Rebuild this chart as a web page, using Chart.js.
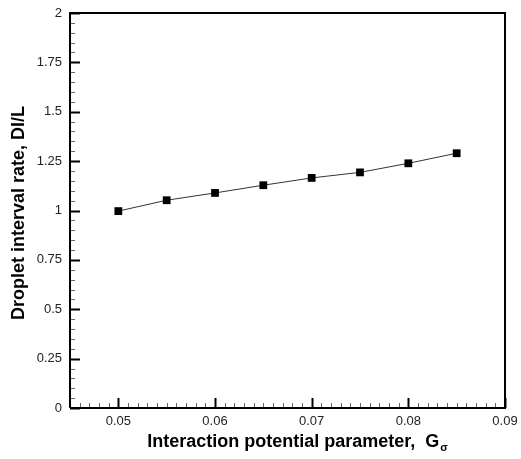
<!DOCTYPE html>
<html><head><meta charset="utf-8">
<script src="https://cdn.jsdelivr.net/npm/chart.js@4/dist/chart.umd.min.js"></script>
<style>html,body{margin:0;padding:0;background:#fff}#wrap{width:521px;height:459px}</style>
</head><body><div id="wrap"><canvas id="c" width="521" height="459"></canvas></div>
<script>
const gSigma = [0.05, 0.055, 0.06, 0.065, 0.07, 0.075, 0.08, 0.085];
const intervalRate = [0.997, 1.052, 1.089, 1.128, 1.165, 1.193, 1.239, 1.29];
const xTicks = [0.05, 0.06, 0.07, 0.08, 0.09];
const yTicks = [0, 0.25, 0.5, 0.75, 1, 1.25, 1.5, 1.75, 2];
const xLabel = 'Interaction potential parameter,  G';
const xLabelSub = 'σ';
const yLabel = 'Droplet interval rate, DI/L';

const frame = {
  id: 'frame',
  afterDraw(chart) {
    const {ctx, chartArea: a, scales: {x, y}} = chart;
    ctx.save();
    ctx.strokeStyle = '#000';
    for (let i = 0; i <= 45; i++) {
      const v = 0.045 + i * 0.001;
      const px = Math.round(x.getPixelForValue(v)) + 0.5;
      const major = Math.abs((v * 100) - Math.round(v * 100)) < 1e-6;
      ctx.lineWidth = major ? 2 : 1;
      ctx.strokeStyle = major ? '#000' : '#666';
      ctx.beginPath(); ctx.moveTo(px, a.bottom); ctx.lineTo(px, a.bottom - (major ? 10 : 5)); ctx.stroke();
    }
    for (let i = 0; i <= 40; i++) {
      const v = i * 0.05;
      const py = Math.round(y.getPixelForValue(v)) + 0.5;
      const major = i % 5 === 0;
      ctx.lineWidth = major ? 2 : 1;
      ctx.strokeStyle = major ? '#000' : '#666';
      ctx.beginPath(); ctx.moveTo(a.left, py); ctx.lineTo(a.left + (major ? 10 : 5), py); ctx.stroke();
    }
    ctx.strokeStyle = '#000';
    ctx.lineWidth = 2;
    ctx.beginPath();
    ctx.moveTo(a.left, a.bottom); ctx.lineTo(a.left, a.top); ctx.lineTo(a.right, a.top);
    ctx.lineTo(a.right, a.bottom); ctx.lineTo(a.left, a.bottom);
    ctx.stroke();
    // axis titles
    ctx.fillStyle = '#000';
    ctx.textBaseline = 'middle';
    ctx.font = 'bold 18px "Liberation Sans", Arial, sans-serif';
    const w1 = ctx.measureText(xLabel).width;
    ctx.font = 'bold 11px "Liberation Sans", Arial, sans-serif';
    const w2 = ctx.measureText(xLabelSub).width;
    const cx = 297;
    const sx = cx - (w1 + w2) / 2;
    ctx.font = 'bold 18px "Liberation Sans", Arial, sans-serif';
    ctx.textAlign = 'left';
    ctx.fillText(xLabel, sx, 442);
    ctx.font = 'bold 11px "Liberation Sans", Arial, sans-serif';
    ctx.fillText(xLabelSub, sx + w1 + 1, 448);
    ctx.save();
    ctx.translate(19, 213);
    ctx.rotate(-Math.PI / 2);
    ctx.textAlign = 'center';
    ctx.font = 'bold 18px "Liberation Sans", Arial, sans-serif';
    ctx.fillText(yLabel, 0, 0);
    ctx.restore();
    ctx.restore();
  }
};

new Chart(document.getElementById('c'), {
  type: 'scatter',
  data: {
    datasets: [{
      data: gSigma.map((g, i) => ({x: g, y: intervalRate[i]})),
      showLine: true,
      borderColor: '#333',
      borderWidth: 1,
      pointStyle: 'rect',
      pointRadius: 5.5,
      pointHoverRadius: 5.5,
      pointBackgroundColor: '#000',
      pointBorderColor: '#000',
      pointBorderWidth: 0,
      tension: 0
    }]
  },
  options: {
    responsive: false,
    animation: false,
    events: [],
    layout: {padding: {left: 0, top: 13, right: 16, bottom: 0}},
    plugins: {legend: {display: false}, tooltip: {enabled: false}},
    scales: {
      x: {
        type: 'linear', min: 0.045, max: 0.09,
        afterBuildTicks: s => { s.ticks = xTicks.map(v => ({value: v})); },
        afterFit: s => { s.height = 51; s.paddingLeft = 0; s.paddingRight = 0; },
        grid: {display: false, drawTicks: false},
        border: {display: false},
        ticks: {color: '#222', padding: 6, maxRotation: 0, autoSkip: false,
          font: {family: '"Liberation Sans", Arial, sans-serif', size: 13},
          callback: v => String(v)}
      },
      y: {
        type: 'linear', min: 0, max: 2,
        afterBuildTicks: s => { s.ticks = yTicks.map(v => ({value: v})); },
        afterFit: s => { s.width = 70; s.paddingTop = 0; s.paddingBottom = 0; },
        grid: {display: false, drawTicks: false},
        border: {display: false},
        ticks: {color: '#222', padding: 8, autoSkip: false,
          font: {family: '"Liberation Sans", Arial, sans-serif', size: 13},
          callback: v => String(v)}
      }
    }
  },
  plugins: [frame]
});
</script>
</body></html>
